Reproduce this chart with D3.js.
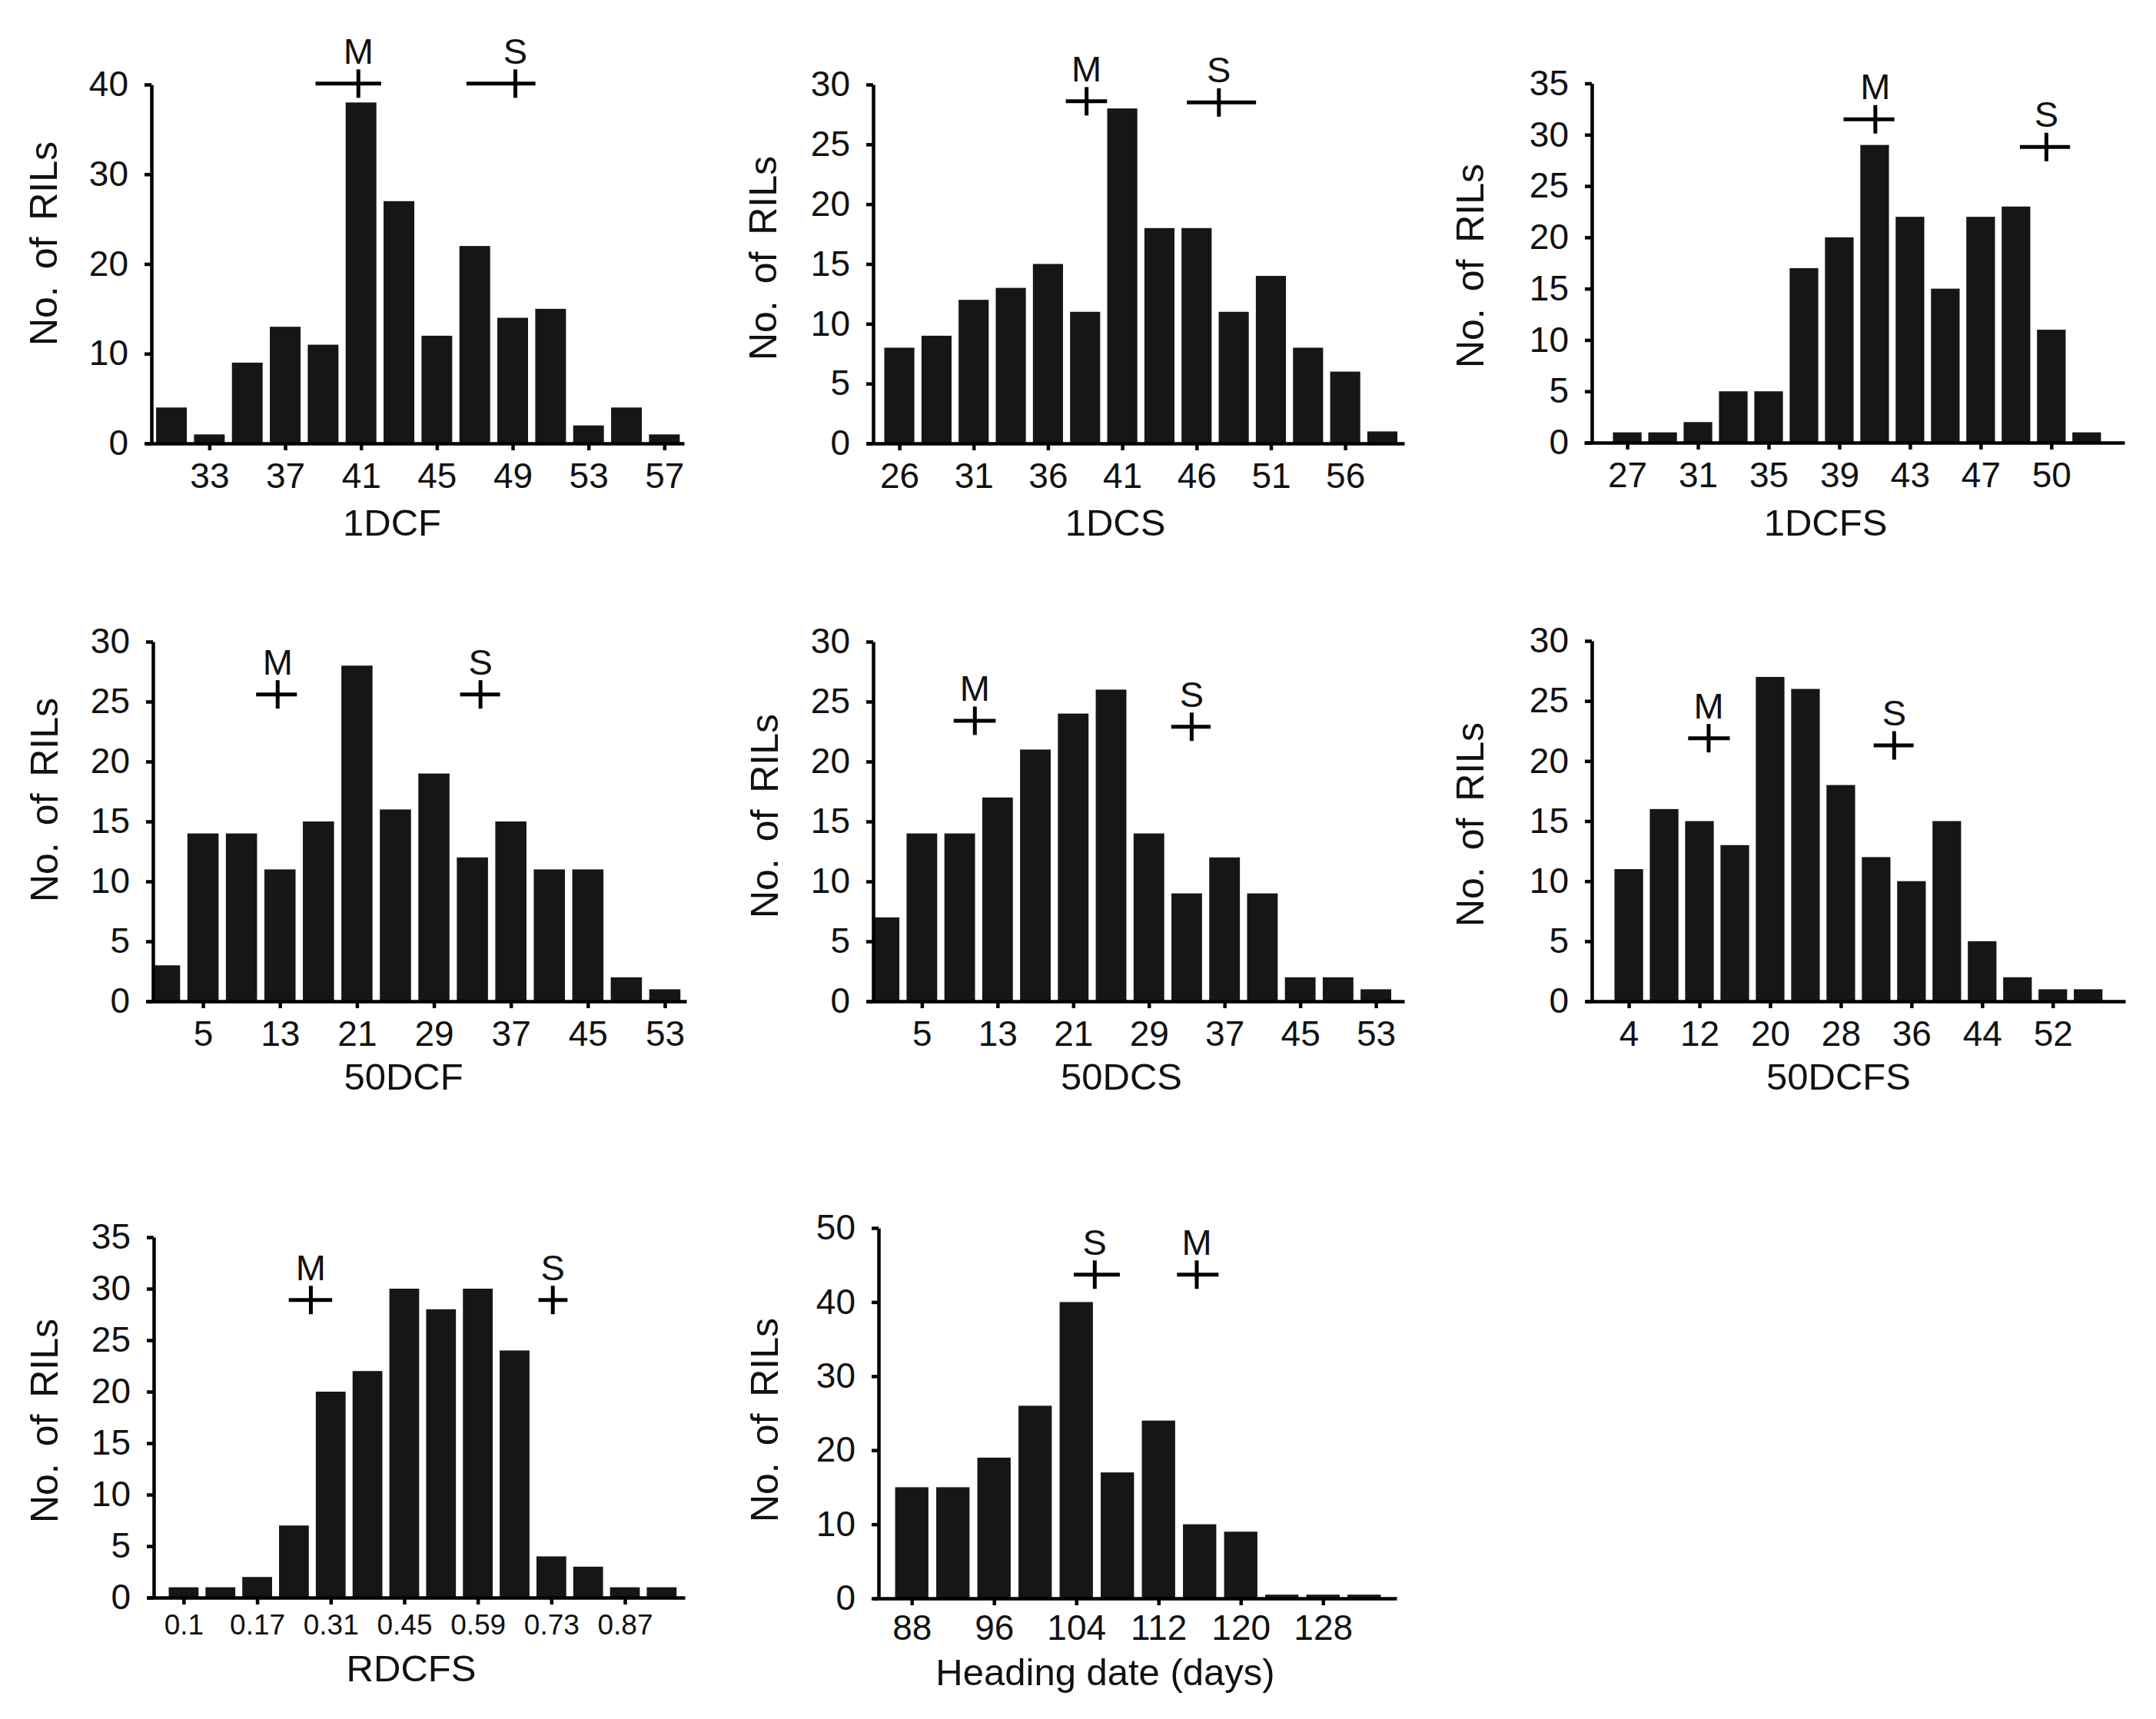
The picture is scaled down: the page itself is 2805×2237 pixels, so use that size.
<!DOCTYPE html>
<html>
<head>
<meta charset="utf-8">
<script src="https://cdn.jsdelivr.net/npm/d3@7"></script>
<style>
  html, body { margin: 0; padding: 0; background: #fff; }
  svg text { font-family: "Liberation Sans", Arial, sans-serif; fill: #111; }
</style>
</head>
<body>
<svg id="chart"></svg>
<script>
// bar counts (left to right), x tick labels ("" = unlabelled bar), y ticks,
// parental means with their horizontal bars (positions in bar units)
const dcf1Counts = [4, 1, 9, 13, 11, 38, 27, 12, 22, 14, 15, 2, 4, 1];
const dcf1Labels = ["", "33", "", "37", "", "41", "", "45", "", "49", "", "53", "", "57"];
const dcf1YTicks = [0, 10, 20, 30, 40];
const dcf1Parents = [{name: "M", lo: 3.8, mean: 4.93, hi: 5.53, n: 40.1},
                     {name: "S", lo: 7.78, mean: 9.07, hi: 9.6, n: 40.1}];

const dcs1Counts = [8, 9, 12, 13, 15, 11, 28, 18, 18, 11, 14, 8, 6, 1];
const dcs1Labels = ["26", "", "31", "", "36", "", "41", "", "46", "", "51", "", "56", ""];
const dcs1YTicks = [0, 5, 10, 15, 20, 25, 30];
const dcs1Parents = [{name: "M", lo: 4.48, mean: 5.04, hi: 5.59, n: 28.6},
                     {name: "S", lo: 7.74, mean: 8.6, hi: 9.6, n: 28.5}];

const dcfs1Counts = [1, 1, 2, 5, 5, 17, 20, 29, 22, 15, 22, 23, 11, 1];
const dcfs1Labels = ["27", "", "31", "", "35", "", "39", "", "43", "", "47", "", "50", ""];
const dcfs1YTicks = [0, 5, 10, 15, 20, 25, 30, 35];
const dcfs1Parents = [{name: "M", lo: 6.12, mean: 7.02, hi: 7.56, n: 31.5},
                      {name: "S", lo: 11.11, mean: 11.86, hi: 12.53, n: 28.8}];

const dcf50Counts = [3, 14, 14, 11, 15, 28, 16, 19, 12, 15, 11, 11, 2, 1];
const dcf50Labels = ["", "5", "", "13", "", "21", "", "29", "", "37", "", "45", "", "53"];
const dcf50YTicks = [0, 5, 10, 15, 20, 25, 30];
const dcf50Parents = [{name: "M", lo: 2.38, mean: 2.94, hi: 3.44, n: 25.6},
                      {name: "S", lo: 7.68, mean: 8.21, hi: 8.72, n: 25.6}];

const dcs50Counts = [7, 14, 14, 17, 21, 24, 26, 14, 9, 12, 9, 2, 2, 1];
const dcs50Labels = ["", "5", "", "13", "", "21", "", "29", "", "37", "", "45", "", "53"];
const dcs50YTicks = [0, 5, 10, 15, 20, 25, 30];
const dcs50Parents = [{name: "M", lo: 1.84, mean: 2.4, hi: 2.95, n: 23.4},
                      {name: "S", lo: 7.59, mean: 8.13, hi: 8.63, n: 22.9}];

const dcfs50Counts = [11, 16, 15, 13, 27, 26, 18, 12, 10, 15, 5, 2, 1, 1];
const dcfs50Labels = ["4", "", "12", "", "20", "", "28", "", "36", "", "44", "", "52", ""];
const dcfs50YTicks = [0, 5, 10, 15, 20, 25, 30];
const dcfs50Parents = [{name: "M", lo: 1.68, mean: 2.26, hi: 2.86, n: 21.9},
                       {name: "S", lo: 6.93, mean: 7.51, hi: 8.06, n: 21.3}];

const rdcfsCounts = [1, 1, 2, 7, 20, 22, 30, 28, 30, 24, 4, 3, 1, 1];
const rdcfsLabels = ["0.1", "", "0.17", "", "0.31", "", "0.45", "", "0.59", "", "0.73", "", "0.87", ""];
const rdcfsYTicks = [0, 5, 10, 15, 20, 25, 30, 35];
const rdcfsParents = [{name: "M", lo: 2.86, mean: 3.46, hi: 4.04, n: 28.9},
                      {name: "S", lo: 9.65, mean: 10.04, hi: 10.44, n: 28.9}];

const hdCounts = [15, 15, 19, 26, 40, 17, 24, 10, 9, 0.5, 0.5, 0.5];
const hdLabels = ["88", "", "96", "", "104", "", "112", "", "120", "", "128", ""];
const hdYTicks = [0, 10, 20, 30, 40, 50];
const hdParents = [{name: "S", lo: 3.94, mean: 4.45, hi: 5.06, n: 43.7},
                   {name: "M", lo: 6.45, mean: 6.93, hi: 7.46, n: 43.7}];

// layout of each panel (pixels)
const panels = [
  {title: "1DCF", counts: dcf1Counts, labels: dcf1Labels, yTicks: dcf1YTicks, parents: dcf1Parents,
   axisX: 197, x0: 190, x1: 890, dom: [-0.67, 13.52], yB: 577, yT: 110,
   tx: 510, ty: 697, ly: 317, lx: 74, tickFont: 46, pad: 16},
  {title: "1DCS", counts: dcs1Counts, labels: dcs1Labels, yTicks: dcs1YTicks, parents: dcs1Parents,
   axisX: 1136, x0: 1128, x1: 1827, dom: [-0.87, 13.59], yB: 577, yT: 110,
   tx: 1451, ty: 697, ly: 336, lx: 1010, tickFont: 46, pad: 16},
  {title: "1DCFS", counts: dcfs1Counts, labels: dcfs1Labels, yTicks: dcfs1YTicks, parents: dcfs1Parents,
   axisX: 2071, x0: 2061, x1: 2764, dom: [-1.22, 14.07], yB: 576, yT: 108.5,
   tx: 2375, ty: 697, ly: 346, lx: 1930, tickFont: 46, pad: 16},
  {title: "50DCF", counts: dcf50Counts, labels: dcf50Labels, yTicks: dcf50YTicks, parents: dcf50Parents,
   axisX: 199, x0: 192, x1: 893, dom: [-0.44, 13.56], yB: 1303, yT: 835,
   tx: 525, ty: 1418, ly: 1041, lx: 75, tickFont: 46, pad: 16},
  {title: "50DCS", counts: dcs50Counts, labels: dcs50Labels, yTicks: dcs50YTicks, parents: dcs50Parents,
   axisX: 1136, x0: 1129, x1: 1827, dom: [-0.43, 13.75], yB: 1303, yT: 835,
   tx: 1459, ty: 1418, ly: 1062, lx: 1012, tickFont: 46, pad: 16},
  {title: "50DCFS", counts: dcfs50Counts, labels: dcfs50Labels, yTicks: dcfs50YTicks, parents: dcfs50Parents,
   axisX: 2071, x0: 2063, x1: 2765, dom: [-1.22, 14.05], yB: 1303, yT: 834,
   tx: 2392, ty: 1418, ly: 1073, lx: 1930, tickFont: 46, pad: 16},
  {title: "RDCFS", counts: rdcfsCounts, labels: rdcfsLabels, yTicks: rdcfsYTicks, parents: rdcfsParents,
   axisX: 200, x0: 192, x1: 891, dom: [-0.98, 13.63], yB: 2079, yT: 1610,
   tx: 535, ty: 2188, ly: 1849, lx: 75, tickFont: 37, pad: 13},
  {title: "Heading date (days)", counts: hdCounts, labels: hdLabels, yTicks: hdYTicks, parents: hdParents,
   axisX: 1143, x0: 1137, x1: 1817, dom: [-0.92, 11.79], yB: 2080, yT: 1598,
   tx: 1438, ty: 2193, ly: 1848, lx: 1012, tickFont: 46, pad: 12}
];

const svg = d3.select('#chart')
    .attr('width', 2805)
    .attr('height', 2237);

svg.append('rect').attr('width', 2805).attr('height', 2237).attr('fill', '#fff');

panels.forEach(function(p) {
  const g = svg.append('g').attr('class', 'panel');
  const n = p.counts.length;

  const x = d3.scaleLinear().domain(p.dom).range([p.x0, p.x1]);
  const y = d3.scaleLinear()
      .domain([0, d3.max(p.yTicks)])
      .range([p.yB, p.yT]);

  const half = 0.405;

  g.append('g')
    .selectAll('rect')
    .data(p.counts)
    .enter().append('rect')
      .attr('x', (d, i) => Math.max(x(i - half), p.axisX))
      .attr('width', (d, i) => x(i + half) - Math.max(x(i - half), p.axisX))
      .attr('y', d => y(d))
      .attr('height', d => y(0) - y(d))
      .attr('fill', '#161616');

  // x axis: line spans the whole range, ticks only under labelled bars
  const xAxis = d3.axisBottom(x)
      .tickValues(d3.range(n).filter(i => p.labels[i] !== ''))
      .tickFormat(i => p.labels[i])
      .tickSize(9)
      .tickSizeOuter(0)
      .tickPadding(p.pad);

  const gx = g.append('g')
      .attr('transform', `translate(0,${p.yB})`)
      .call(xAxis);

  // y axis
  const yAxis = d3.axisLeft(y)
      .tickValues(p.yTicks)
      .tickSize(9)
      .tickSizeOuter(0)
      .tickPadding(21);

  const gy = g.append('g')
      .attr('transform', `translate(${p.axisX},0)`)
      .call(yAxis);

  [gx, gy].forEach(a => {
    a.select('.domain').attr('stroke', '#000').attr('stroke-width', 4.5);
    a.selectAll('.tick line').attr('stroke', '#000').attr('stroke-width', 4.5);
    a.selectAll('.tick text')
      .attr('fill', '#111')
      .style('font-family', '"Liberation Sans", Arial, sans-serif');
  });
  gx.selectAll('.tick text').style('font-size', p.tickFont + 'px');
  gy.selectAll('.tick text').style('font-size', '46px');

  // axis titles
  g.append('text')
      .attr('x', p.tx)
      .attr('y', p.ty)
      .attr('text-anchor', 'middle')
      .style('font-size', '49px')
      .text(p.title);

  g.append('text')
      .attr('transform', `translate(${p.lx},${p.ly}) rotate(-90)`)
      .attr('text-anchor', 'middle')
      .style('font-size', '50px')
      .style('word-spacing', '8px')
      .text('No. of RILs');

  // parental lines
  const mk = g.append('g')
    .selectAll('g')
    .data(p.parents)
    .enter().append('g');

  mk.append('line')
      .attr('x1', d => x(d.lo))
      .attr('x2', d => x(d.hi))
      .attr('y1', d => y(d.n))
      .attr('y2', d => y(d.n))
      .attr('stroke', '#000')
      .attr('stroke-width', 5);

  mk.append('line')
      .attr('x1', d => x(d.mean))
      .attr('x2', d => x(d.mean))
      .attr('y1', d => y(d.n) - 18.5)
      .attr('y2', d => y(d.n) + 18.5)
      .attr('stroke', '#000')
      .attr('stroke-width', 5);

  mk.append('text')
      .attr('x', d => x(d.mean))
      .attr('y', d => y(d.n) - 26)
      .attr('text-anchor', 'middle')
      .style('font-size', '47px')
      .text(d => d.name);
});
</script>
</body>
</html>
